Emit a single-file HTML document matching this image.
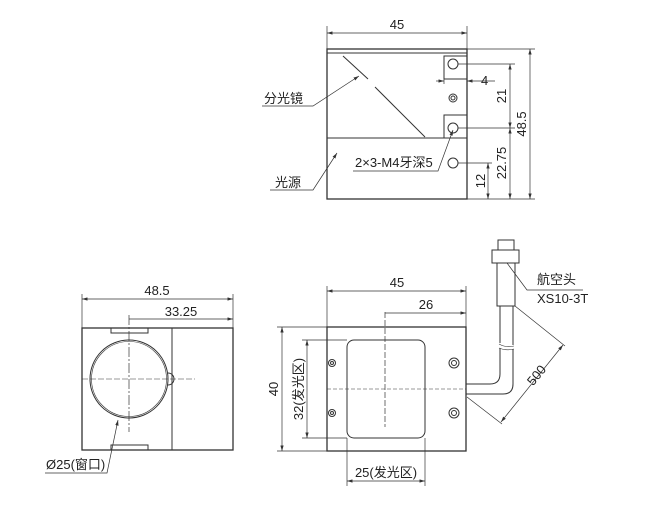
<!DOCTYPE html>
<html><head><meta charset="utf-8"><style>
body{margin:0;background:#fff}
svg{display:block}
text{font-family:"Liberation Sans","Noto Sans CJK SC",sans-serif;font-size:13px;fill:#222}
</style></head><body>
<svg width="657" height="522" viewBox="0 0 657 522" xmlns="http://www.w3.org/2000/svg">
<defs>
<marker id="a" viewBox="0 0 10 6" refX="10" refY="3" markerWidth="8" markerHeight="5" orient="auto-start-reverse"><path d="M0,0L10,3L0,6z" fill="#333"/></marker>
</defs>
<g stroke="#333" stroke-width="1" fill="none">
<!-- TOP VIEW -->
<rect x="327" y="49" width="140" height="150" stroke-width="1.3"/>
<line x1="327" y1="53" x2="467" y2="53"/>
<line x1="327" y1="138" x2="467" y2="138"/>
<line x1="343" y1="56" x2="368" y2="79"/>
<line x1="375" y1="87" x2="425" y2="137"/>
<rect x="444" y="56" width="23" height="23"/>
<rect x="444" y="115" width="23" height="23"/>
<circle cx="453" cy="64" r="5"/>
<circle cx="453" cy="128" r="5"/>
<circle cx="453" cy="163" r="5"/>
<circle cx="453" cy="98" r="4"/><circle cx="453" cy="98" r="2"/>
<line x1="327" y1="26" x2="327" y2="49" stroke-width=".7"/>
<line x1="467" y1="26" x2="467" y2="49" stroke-width=".7"/>
<line x1="327" y1="33" x2="467" y2="33" stroke-width=".7" marker-start="url(#a)" marker-end="url(#a)"/>
<line x1="444" y1="79" x2="444" y2="84" stroke-width=".7"/>
<line x1="436" y1="81" x2="444" y2="81" stroke-width=".7" marker-end="url(#a)"/>
<line x1="495" y1="81" x2="467" y2="81" stroke-width=".7" marker-end="url(#a)"/>
<line x1="458" y1="64" x2="515" y2="64" stroke-width=".7"/>
<line x1="458" y1="128" x2="515" y2="128" stroke-width=".7"/>
<line x1="458" y1="163" x2="492" y2="163" stroke-width=".7"/>
<line x1="467" y1="49" x2="535" y2="49" stroke-width=".7"/>
<line x1="467" y1="199" x2="535" y2="199" stroke-width=".7"/>
<line x1="510" y1="64" x2="510" y2="128" stroke-width=".7" marker-start="url(#a)" marker-end="url(#a)"/>
<line x1="510" y1="128" x2="510" y2="199" stroke-width=".7" marker-start="url(#a)" marker-end="url(#a)"/>
<line x1="530" y1="49" x2="530" y2="199" stroke-width=".7" marker-start="url(#a)" marker-end="url(#a)"/>
<line x1="488" y1="163" x2="488" y2="199" stroke-width=".7" marker-start="url(#a)" marker-end="url(#a)"/>
<polyline points="262,106 313,106 359,76" stroke-width=".7" marker-end="url(#a)"/>
<polyline points="270,190 313,190 337,153" stroke-width=".7" marker-end="url(#a)"/>
<polyline points="353,171 438,171 453,130" stroke-width=".7" marker-end="url(#a)"/>
<!-- BOTTOM LEFT -->
<rect x="82" y="328" width="151" height="122" stroke-width="1.3"/>
<line x1="172" y1="328" x2="172" y2="450"/>
<path d="M111,328V333H148V328M111,450V445H148V450"/>
<circle cx="129" cy="379" r="39"/>
<circle cx="129" cy="379" r="37.5" stroke-width=".6"/>
<path d="M168,373A6,6 0 1 1 168,385"/>
<line x1="82" y1="379" x2="195" y2="379" stroke-dasharray="6 2" stroke-width=".6"/>
<line x1="129" y1="315" x2="129" y2="432" stroke-dasharray="10 2 2 2" stroke-width=".7"/>
<line x1="82" y1="294" x2="82" y2="328" stroke-width=".7"/>
<line x1="233" y1="294" x2="233" y2="328" stroke-width=".7"/>
<line x1="82" y1="299" x2="233" y2="299" stroke-width=".7" marker-start="url(#a)" marker-end="url(#a)"/>
<line x1="129" y1="319" x2="233" y2="319" stroke-width=".7" marker-end="url(#a)"/>
<polyline points="45,473 107,473 118,420" stroke-width=".7" marker-end="url(#a)"/>
<!-- BOTTOM RIGHT -->
<rect x="327" y="327" width="139" height="124" stroke-width="1.3"/>
<rect x="347" y="340" width="78" height="98" rx="7"/>
<circle cx="332" cy="363" r="3.5"/><circle cx="332" cy="363" r="1.5"/>
<circle cx="332" cy="413" r="3.5"/><circle cx="332" cy="413" r="1.5"/>
<circle cx="454" cy="363" r="5"/><circle cx="454" cy="363" r="2.5"/>
<circle cx="454" cy="413" r="5"/><circle cx="454" cy="413" r="2.5"/>
<line x1="327" y1="389" x2="466" y2="389" stroke-dasharray="4 2" stroke-width=".6"/>
<line x1="385" y1="312" x2="385" y2="427" stroke-dasharray="6 2" stroke-width=".7"/>
<line x1="327" y1="286" x2="327" y2="327" stroke-width=".7"/>
<line x1="466" y1="286" x2="466" y2="327" stroke-width=".7"/>
<line x1="327" y1="291" x2="466" y2="291" stroke-width=".7" marker-start="url(#a)" marker-end="url(#a)"/>
<line x1="385" y1="313" x2="466" y2="313" stroke-width=".7" marker-end="url(#a)"/>
<line x1="277" y1="327" x2="327" y2="327" stroke-width=".7"/>
<line x1="277" y1="451" x2="327" y2="451" stroke-width=".7"/>
<line x1="282" y1="327" x2="282" y2="451" stroke-width=".7" marker-start="url(#a)" marker-end="url(#a)"/>
<line x1="302" y1="340" x2="347" y2="340" stroke-width=".7"/>
<line x1="302" y1="438" x2="347" y2="438" stroke-width=".7"/>
<line x1="307" y1="340" x2="307" y2="438" stroke-width=".7" marker-start="url(#a)" marker-end="url(#a)"/>
<line x1="347" y1="438" x2="347" y2="486" stroke-width=".7"/>
<line x1="425" y1="438" x2="425" y2="486" stroke-width=".7"/>
<line x1="347" y1="481" x2="425" y2="481" stroke-width=".7" marker-start="url(#a)" marker-end="url(#a)"/>
<!-- cable -->
<rect x="498" y="240" width="16" height="10"/>
<rect x="492" y="250" width="27" height="13"/>
<rect x="497" y="263" width="18" height="43"/>
<path d="M500,306V343M513,306V345"/>
<path d="M500,348V374Q500,384 490,384H466M513,349V384Q513,394 503,394H466"/>
<path d="M499,344Q506,348 514,346M499,348Q506,351 514,349" stroke-width=".6"/>
<polyline points="583,290 527,290 507,263" stroke-width=".7"/>
<line x1="515" y1="306" x2="565" y2="346" stroke-width=".7"/>
<line x1="467" y1="397" x2="502" y2="424" stroke-width=".7"/>
<line x1="563" y1="345" x2="501" y2="422" stroke-width=".7" marker-start="url(#a)" marker-end="url(#a)"/>
</g>
<text x="397" y="29" text-anchor="middle">45</text>
<text x="481" y="85">4</text>
<text x="264" y="103">分光镜</text>
<text x="275" y="187">光源</text>
<text x="355" y="167">2×3-M4牙深5</text>
<text transform="translate(506,96) rotate(-90)" text-anchor="middle">21</text>
<text transform="translate(506,163) rotate(-90)" text-anchor="middle">22.75</text>
<text transform="translate(526,124) rotate(-90)" text-anchor="middle">48.5</text>
<text transform="translate(485,181) rotate(-90)" text-anchor="middle">12</text>
<text x="157" y="295" text-anchor="middle">48.5</text>
<text x="181" y="316" text-anchor="middle">33.25</text>
<text x="46" y="469">Ø25(窗口)</text>
<text x="397" y="287" text-anchor="middle">45</text>
<text x="426" y="309" text-anchor="middle">26</text>
<text transform="translate(278,389) rotate(-90)" text-anchor="middle">40</text>
<text transform="translate(303,389) rotate(-90)" text-anchor="middle">32(发光区)</text>
<text x="386" y="477" text-anchor="middle">25(发光区)</text>
<text x="537" y="284">航空头</text>
<text x="537" y="303">XS10-3T</text>
<text transform="translate(540,378) rotate(-51)" text-anchor="middle">500</text>
</svg>
</body></html>
